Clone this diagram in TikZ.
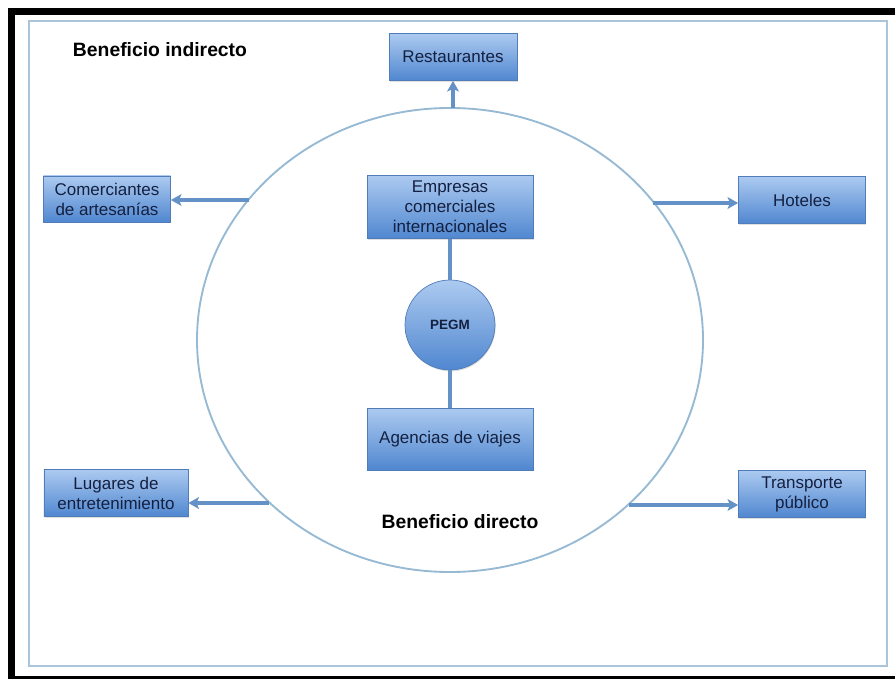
\documentclass[tikz,border=0pt]{standalone}
\usepackage{fontspec}
\setmainfont{Liberation Sans}
\usetikzlibrary{shapes.geometric,arrows.meta,shadows}
\definecolor{boxtop}{RGB}{172,202,240}
\definecolor{boxbot}{RGB}{80,135,208}
\definecolor{boxline}{RGB}{80,125,185}
\definecolor{txtnavy}{RGB}{20,32,64}
\definecolor{linkblue}{RGB}{100,145,198}
\definecolor{ringblue}{RGB}{150,185,212}
\definecolor{frameblue}{RGB}{170,196,218}
\tikzset{
  bluebox/.style={draw=boxline, line width=0.6pt, top color=boxtop, bottom color=boxbot,
    text=txtnavy, align=center, inner sep=2pt, font=\fontsize{14.5}{17}\selectfont,
    drop shadow={shadow xshift=0.5pt, shadow yshift=-1.2pt, opacity=0.25}},
  link/.style={draw=linkblue, line width=2.6pt},
  arrowlink/.style={link, -{Stealth[length=9pt,width=10pt,inset=2pt]}},
  headline/.style={font=\bfseries\fontsize{16.5}{19}\selectfont, text=black}
}
\begin{document}
\begin{tikzpicture}[x=0.03cm,y=-0.03cm]
\useasboundingbox (0,0) rectangle (895,679);
% black frame
\fill[black] (8,8) rectangle (895,15);
\fill[black] (8,8) rectangle (15,679);
\fill[black] (8,676) rectangle (895,679);
% inner frame
\draw[frameblue, line width=1.6pt] (29,21) rectangle (887,666);
% big ring
\node[ellipse, draw=ringblue, line width=1.6pt, minimum width=15.18cm, minimum height=13.92cm, inner sep=0pt] (ring) at (450,340) {};
% titles
\node[headline] (indir) at (160,50) {Beneficio indirecto};
\node[headline] (dir) at (460,522) {Beneficio directo};
% boxes
\node[bluebox, minimum width=3.84cm, minimum height=1.41cm] (rest) at (453,57) {Restaurantes};
\node[bluebox, minimum width=4.98cm, minimum height=1.89cm] (empr) at (450,207) {Empresas\\comerciales\\internacionales};
\node[bluebox, minimum width=4.98cm, minimum height=1.86cm] (agen) at (450,439) {Agencias de viajes};
\node[bluebox, minimum width=3.81cm, minimum height=1.38cm] (comer) at (107,199) {Comerciantes\\de artesanías};
\node[bluebox, minimum width=3.81cm, minimum height=1.41cm] (hot) at (802,200) {Hoteles};
\node[bluebox, minimum width=4.32cm, minimum height=1.41cm] (lug) at (116,493) {Lugares de\\entretenimiento};
\node[bluebox, minimum width=3.81cm, minimum height=1.41cm] (trans) at (802,494) {Transporte\\público};
% PEGM
\node[circle, draw=boxline, line width=0.6pt, top color=boxtop, bottom color=boxbot, minimum size=2.7cm, inner sep=0pt,
  font=\bfseries\fontsize{11.5}{13}\selectfont, text=txtnavy,
  drop shadow={shadow xshift=0.5pt, shadow yshift=-1.2pt, opacity=0.25}] (pegm) at (450,325) {PEGM};
% connectors inside
\draw[link] (empr.south) -- (pegm.north);
\draw[link] (pegm.south) -- (agen.north);
% arrows out (start points lie on the ring)
\coordinate (ctop) at (453,108);
\coordinate (cl1) at (249,200);
\coordinate (cr1) at (653,203);
\coordinate (cl2) at (269,503);
\coordinate (cr2) at (629,505);
\draw[arrowlink] (ctop) -- (rest.south);
\draw[arrowlink] (cl1) -- (cl1 -| comer.east);
\draw[arrowlink] (cr1) -- (cr1 -| hot.west);
\draw[arrowlink] (cl2) -- (cl2 -| lug.east);
\draw[arrowlink] (cr2) -- (cr2 -| trans.west);
\end{tikzpicture}
\end{document}
